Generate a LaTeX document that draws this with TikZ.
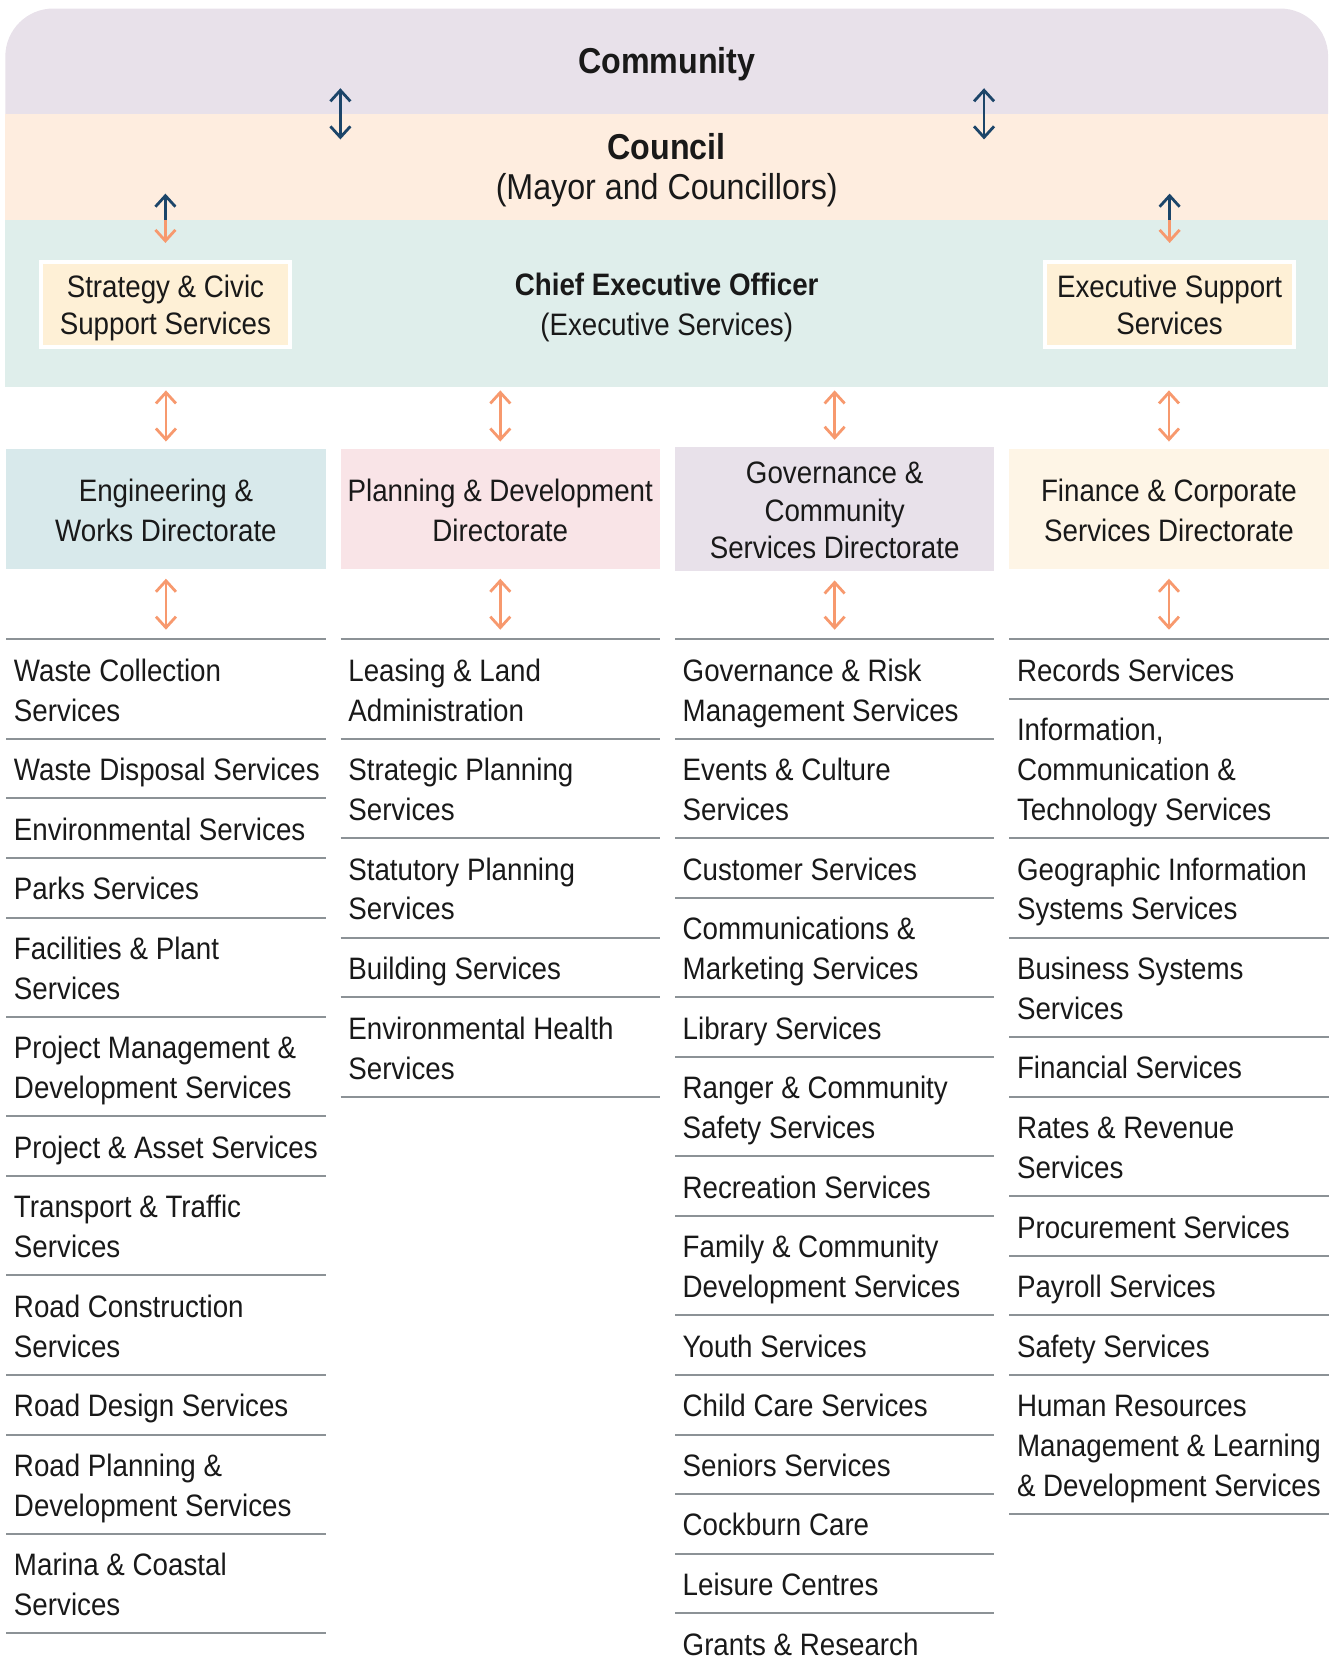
\documentclass[tikz,border=0pt]{standalone}
\usepackage{fontspec}
\setmainfont{Liberation Sans}[FakeStretch=0.895]
\usetikzlibrary{arrows.meta,positioning}
\definecolor{commfill}{HTML}{E8E1EA}
\definecolor{councilfill}{HTML}{FEEDDF}
\definecolor{ceofill}{HTML}{DFEEEB}
\definecolor{supfill}{HTML}{FEF0D6}
\definecolor{engfill}{HTML}{D8E9EB}
\definecolor{planfill}{HTML}{F9E4E7}
\definecolor{govfill}{HTML}{E8E1EA}
\definecolor{finfill}{HTML}{FEF5E6}
\definecolor{navy}{HTML}{1C4569}
\definecolor{salmon}{HTML}{F7996E}
\definecolor{rulegrey}{HTML}{8C9296}
% natural word spaces, tall strut for the first line, deep strut for the last line
\newcommand{\fixspace}{\spaceskip=\fontdimen2\font\xspaceskip=\fontdimen2\font}
\newcommand{\topstrut}{\rule[-6pt]{0pt}{24pt}}
\newcommand{\botstrut}{\rule[-6pt]{0pt}{6pt}}
\newcommand{\bandtop}{\rule[-6.1pt]{0pt}{24.4pt}}
\newcommand{\bandbot}{\rule[-6.1pt]{0pt}{6.1pt}}

\begin{document}
\begin{tikzpicture}[x=0.532pt, y=-0.532pt,
  every node/.style={font=\fontsize{15.5pt}{20pt}\selectfont, text=black!90},
  band/.style={inner sep=0pt, outer sep=0pt, text width=661.5pt, align=center,
               execute at begin node={\fixspace\bandtop},
               execute at end node=\bandbot},
  supbox/.style={draw=white, line width=1.8pt, fill=supfill, inner sep=0pt,
                 text width=124.5pt, minimum height=41pt, align=center,
                 font=\fontsize{15.5pt}{18.5pt}\selectfont,
                 execute at begin node={\fixspace\topstrut},
                 execute at end node=\botstrut},
  dirbox/.style={inner sep=0pt, outer sep=0pt, text width=159.6pt,
                 minimum height=60.1pt, align=center,
                 execute at begin node={\fixspace\topstrut},
                 execute at end node=\botstrut},
  item/.style={anchor=north west, text width=180pt, align=left, inner xsep=3.8pt,
               inner ysep=0pt, outer sep=0pt,
               execute at begin node={\fixspace\topstrut},
               execute at end node=\botstrut},
  start/.style={inner sep=0pt, outer sep=0pt, minimum size=0pt},
  rule/.style={draw=rulegrey, line width=1pt},
  twoway/.style={{Straight Barb[length=5.5pt,width=10pt]}-{Straight Barb[length=5.5pt,width=10pt]},
                 line width=1.4pt},
  oneway/.style={-{Straight Barb[length=5.5pt,width=10pt]}, line width=1.4pt}]
\useasboundingbox (0,0) rectangle (1250,1568);

% top bands
\fill[commfill, rounded corners=24pt] (5,8) rectangle (1248.5,150);
\node[band, fill=councilfill, minimum height=53.2pt, font=\fontsize{18pt}{20.2pt}\selectfont]
  (council) at (626.75,157) {\textbf{Council}\\(Mayor and Councillors)};
\node[band, fill=ceofill, minimum height=83.2pt]
  (ceo) at (626.75,285.2) {\textbf{Chief Executive Officer}\\(Executive Services)};
\node[band, minimum height=52.7pt, font=\fontsize{18pt}{20.2pt}\selectfont]
  (comm) at (626.75,57.5) {\textbf{Community}};

\node[supbox] (strat) at (155.5,286) {Strategy \& Civic\\Support Services};
\node[supbox] (exsup) at (1099.5,286) {Executive Support\\Services};

\draw[twoway, navy] ([xshift=-163.2pt, yshift=12.8pt]council.north)
  -- ([xshift=-163.2pt, yshift=-12.8pt]council.north);
\draw[twoway, navy] ([xshift=158.7pt, yshift=12.8pt]council.north)
  -- ([xshift=158.7pt, yshift=-12.8pt]council.north);
\foreach \b in {strat,exsup}{
  \draw[oneway, navy] (\b.north |- ceo.north) -- ++(0,-25);
  \draw[oneway, salmon] (\b.north |- ceo.north) -- ([yshift=8.5pt]\b.north);
}

% directorates
\node[dirbox, fill=engfill] (eng) at (156,478.5) {Engineering \&\\Works Directorate};
\node[dirbox, fill=planfill] (plan) at (470.3,478.5) {Planning \& Development\\Directorate};
\node[dirbox, fill=govfill, font=\fontsize{15.5pt}{18.9pt}\selectfont,
      execute at begin node={\fixspace\rule[-5pt]{0pt}{21pt}},
      execute at end node={\rule[-4.5pt]{0pt}{4.5pt}}]
  (gov) at (784.6,478.5) {Governance \&\\Community\\Services Directorate};
\node[dirbox, fill=finfill] (fin) at (1098.9,478.5) {Finance \& Corporate\\Services Directorate};

\node[start] (e0) at (6,601) {};
\node[start] (p0) at (320.3,601) {};
\node[start] (g0) at (634.6,601) {};
\node[start] (f0) at (948.9,601) {};

\foreach \d/\s in {eng/e,plan/p,gov/g,fin/f}{
  \draw[twoway, salmon, shorten <=1.9pt, shorten >=3.7pt] (\d.north |- ceo.south) -- (\d.north);
  \draw[twoway, salmon, shorten <=4.8pt, shorten >=4.8pt] (\d.south) -- (\d.south |- \s0);
  \draw[rule] (\s0) -- ++(300,0);
}

% service lists
\foreach \n/\txt [count=\i] in {2/{Waste Collection\\Services}, 1/Waste Disposal Services,
    1/Environmental Services, 1/Parks Services, 2/{Facilities \& Plant\\Services},
    2/{Project Management \&\\Development Services}, 1/Project \& Asset Services,
    2/{Transport \& Traffic\\Services}, 2/{Road Construction\\Services},
    1/Road Design Services, 2/{Road Planning \&\\Development Services},
    2/{Marina \& Coastal\\Services}}{
  \pgfmathtruncatemacro\prev{\i-1}
  \node[item, minimum height={(18.5+37.5*\n)*0.532pt}] (e\i) at (e\prev.south west) {\txt};
  \draw[rule] (e\i.south west) -- ++(300,0);
}
\foreach \n/\txt [count=\i] in {2/{Leasing \& Land\\Administration},
    2/{Strategic Planning\\Services}, 2/{Statutory Planning\\Services},
    1/Building Services, 2/{Environmental Health\\Services}}{
  \pgfmathtruncatemacro\prev{\i-1}
  \node[item, minimum height={(18.5+37.5*\n)*0.532pt}] (p\i) at (p\prev.south west) {\txt};
  \draw[rule] (p\i.south west) -- ++(300,0);
}
\foreach \n/\txt [count=\i] in {2/{Governance \& Risk\\Management Services},
    2/{Events \& Culture\\Services}, 1/Customer Services,
    2/{Communications \&\\Marketing Services}, 1/Library Services,
    2/{Ranger \& Community\\Safety Services}, 1/Recreation Services,
    2/{Family \& Community\\Development Services}, 1/Youth Services,
    1/Child Care Services, 1/Seniors Services, 1/Cockburn Care,
    1/Leisure Centres, 1/Grants \& Research}{
  \pgfmathtruncatemacro\prev{\i-1}
  \node[item, minimum height={(18.5+37.5*\n)*0.532pt}] (g\i) at (g\prev.south west) {\txt};
  \draw[rule] (g\i.south west) -- ++(300,0);
}
\foreach \n/\txt [count=\i] in {1/Records Services,
    3/{Information,\\Communication \&\\Technology Services},
    2/{Geographic Information\\Systems Services}, 2/{Business Systems\\Services},
    1/Financial Services, 2/{Rates \& Revenue\\Services}, 1/Procurement Services,
    1/Payroll Services, 1/Safety Services,
    3/{Human Resources\\Management \& Learning\\\& Development Services}}{
  \pgfmathtruncatemacro\prev{\i-1}
  \node[item, minimum height={(18.5+37.5*\n)*0.532pt}] (f\i) at (f\prev.south west) {\txt};
  \draw[rule] (f\i.south west) -- ++(300,0);
}
\end{tikzpicture}
\end{document}
